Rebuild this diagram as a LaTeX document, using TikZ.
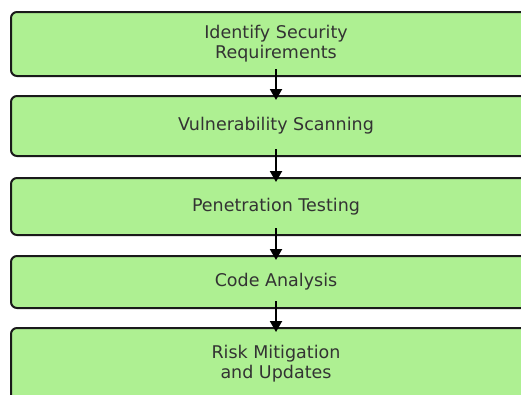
\documentclass[tikz,border=0pt]{standalone}
\usepackage{fontspec}
\setmainfont{DejaVu Sans}
\usetikzlibrary{arrows.meta,positioning}
\definecolor{stageGreen}{RGB}{174,240,146}
\definecolor{stageText}{RGB}{51,51,51}
\definecolor{stageEdge}{RGB}{26,26,26}
\tikzset{
  stage/.style={draw=stageEdge,line width=2pt,rounded corners=6pt,fill=stageGreen,text=stageText,
    minimum width=530pt,outer sep=0pt,align=center,font=\fontsize{17.5}{20}\selectfont},
  flow/.style={->,line width=2pt,shorten <=-7pt,shorten >=-4pt}
}

\begin{document}
\begin{tikzpicture}[>={Triangle[width=12pt,length=11pt]},x=1pt,y=-1pt]
\useasboundingbox (0,0) rectangle (521,394);
\clip (0,0) rectangle (521,394);
\node[stage,minimum height=64pt] (req) at (276,44) {Identify Security\\Requirements};
\node[stage,minimum height=60pt,below=20pt of req] (scan) {Vulnerability Scanning};
\node[stage,minimum height=57pt,below=22pt of scan] (pen) {Penetration Testing};
\node[stage,minimum height=52pt,below=21pt of pen] (code) {Code Analysis};
\node[stage,minimum height=72pt,below=20pt of code] (risk) {Risk Mitigation\\and Updates};
\draw[flow] (req) -- (scan);
\draw[flow] (scan) -- (pen);
\draw[flow] (pen) -- (code);
\draw[flow] (code) -- (risk);
\end{tikzpicture}
\end{document}
